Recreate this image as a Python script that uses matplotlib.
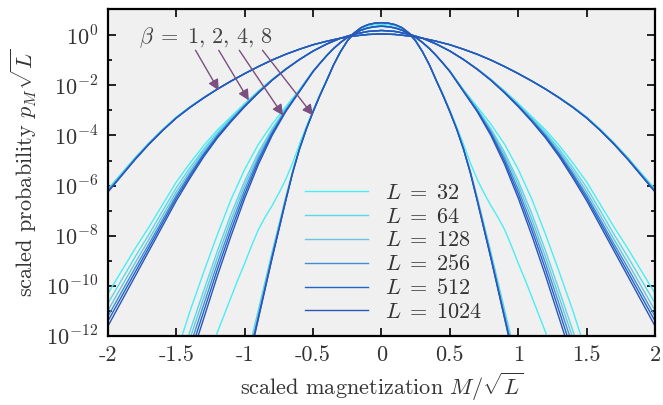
import numpy as np
import matplotlib
matplotlib.use("Agg")
import matplotlib.pyplot as plt
from matplotlib.ticker import FixedLocator, FixedFormatter
from matplotlib.lines import Line2D

plt.rcParams['font.family'] = 'serif'
plt.rcParams['font.serif'] = ['cmr10', 'DejaVu Serif']
plt.rcParams['mathtext.fontset'] = 'cm'
plt.rcParams['axes.unicode_minus'] = False

# ---------------- data (log10 of scaled probability, left half M<=0; distribution is symmetric) -------------
L_values = [32, 64, 128, 256, 512, 1024]
L_colors = ['#48eef5', '#5ad8e6', '#6cc4e0', '#3f8fd6', '#1f64c8', '#2d55b8']
betas = [1, 2, 4, 8]

x_b1 = [-2.0, -1.9, -1.8, -1.7, -1.6, -1.5, -1.4, -1.3, -1.2, -1.1, -1.0,
        -0.9, -0.8, -0.7, -0.6, -0.5, -0.4, -0.3, -0.2, -0.1, 0.0]
logp_b1 = {
    32:   [-6.13, -5.50, -4.87, -4.29, -3.75, -3.26, -2.85, -2.48, -2.14, -1.83, -1.53, -1.25, -0.99, -0.76, -0.56, -0.38, -0.24, -0.12, -0.03, 0.03, 0.05],
    64:   [-6.17, -5.53, -4.89, -4.31, -3.77, -3.28, -2.86, -2.49, -2.15, -1.83, -1.53, -1.25, -0.99, -0.76, -0.56, -0.38, -0.24, -0.12, -0.03, 0.03, 0.05],
    128:  [-6.20, -5.56, -4.91, -4.32, -3.78, -3.29, -2.87, -2.50, -2.15, -1.83, -1.53, -1.25, -0.99, -0.76, -0.56, -0.38, -0.24, -0.12, -0.03, 0.03, 0.05],
    256:  [-6.22, -5.58, -4.93, -4.33, -3.79, -3.30, -2.88, -2.50, -2.15, -1.83, -1.53, -1.25, -0.99, -0.76, -0.56, -0.38, -0.24, -0.12, -0.03, 0.03, 0.05],
    512:  [-6.24, -5.59, -4.94, -4.34, -3.80, -3.30, -2.88, -2.50, -2.15, -1.83, -1.53, -1.25, -0.99, -0.76, -0.56, -0.38, -0.24, -0.12, -0.03, 0.03, 0.05],
    1024: [-6.25, -5.60, -4.95, -4.35, -3.80, -3.30, -2.88, -2.50, -2.15, -1.83, -1.53, -1.25, -0.99, -0.76, -0.56, -0.38, -0.24, -0.12, -0.03, 0.03, 0.05],
}

x_b2 = [-2.0, -1.9, -1.8, -1.7, -1.6, -1.5, -1.4, -1.3, -1.2, -1.1, -1.0,
        -0.9, -0.8, -0.7, -0.6, -0.5, -0.4, -0.3, -0.2, -0.1, 0.0]
logp_b2 = {
    32:   [-10.30, -9.40, -8.50, -7.65, -6.75, -5.85, -5.10, -4.40, -3.78, -3.25, -2.72, -2.22, -1.76, -1.34, -0.97, -0.63, -0.35, -0.12, 0.04, 0.15, 0.19],
    64:   [-10.69, -9.76, -8.83, -7.94, -7.00, -6.08, -5.28, -4.54, -3.88, -3.31, -2.76, -2.24, -1.77, -1.35, -0.97, -0.63, -0.35, -0.12, 0.04, 0.15, 0.19],
    128:  [-10.98, -10.02, -9.07, -8.14, -7.19, -6.24, -5.41, -4.63, -3.95, -3.35, -2.79, -2.26, -1.78, -1.35, -0.97, -0.63, -0.35, -0.12, 0.04, 0.15, 0.19],
    256:  [-11.21, -10.24, -9.27, -8.32, -7.35, -6.38, -5.52, -4.72, -4.00, -3.39, -2.81, -2.28, -1.79, -1.35, -0.97, -0.63, -0.35, -0.12, 0.04, 0.15, 0.19],
    512:  [-11.40, -10.42, -9.44, -8.46, -7.47, -6.49, -5.61, -4.78, -4.05, -3.42, -2.83, -2.29, -1.79, -1.36, -0.97, -0.63, -0.35, -0.12, 0.04, 0.15, 0.19],
    1024: [-11.60, -10.60, -9.60, -8.60, -7.60, -6.60, -5.70, -4.85, -4.10, -3.45, -2.85, -2.30, -1.80, -1.36, -0.97, -0.63, -0.35, -0.12, 0.04, 0.15, 0.19],
}

x_b4 = [-1.5, -1.4, -1.3, -1.2, -1.1, -1.0, -0.9, -0.8, -0.7, -0.6, -0.5,
        -0.45, -0.4, -0.35, -0.3, -0.25, -0.2, -0.15, -0.1, -0.05, 0.0]
logp_b4 = {
    32:   [-12.70, -11.00, -9.45, -7.95, -6.55, -5.35, -4.35, -3.55, -2.85, -2.17, -1.42, -1.12, -0.81, -0.53, -0.29, -0.09, 0.07, 0.20, 0.28, 0.33, 0.35],
    64:   [-13.54, -11.80, -10.19, -8.61, -7.13, -5.81, -4.67, -3.73, -2.93, -2.20, -1.43, -1.12, -0.81, -0.53, -0.29, -0.09, 0.07, 0.20, 0.29, 0.34, 0.36],
    128:  [-13.86, -12.10, -10.47, -8.86, -7.35, -5.98, -4.79, -3.80, -2.96, -2.21, -1.44, -1.12, -0.81, -0.53, -0.29, -0.09, 0.07, 0.20, 0.29, 0.34, 0.36],
    256:  [-14.17, -12.40, -10.75, -9.11, -7.57, -6.16, -4.91, -3.87, -2.99, -2.23, -1.44, -1.12, -0.81, -0.53, -0.29, -0.09, 0.07, 0.20, 0.29, 0.34, 0.36],
    512:  [-14.49, -12.70, -11.02, -9.35, -7.78, -6.33, -5.03, -3.93, -3.02, -2.24, -1.45, -1.12, -0.81, -0.53, -0.29, -0.09, 0.07, 0.20, 0.29, 0.34, 0.36],
    1024: [-14.80, -13.00, -11.30, -9.60, -8.00, -6.50, -5.15, -4.00, -3.05, -2.25, -1.45, -1.12, -0.81, -0.53, -0.29, -0.09, 0.07, 0.20, 0.29, 0.34, 0.36],
}

x_b8 = [-1.25, -1.2, -1.15, -1.1, -1.05, -1.0, -0.95, -0.9, -0.85, -0.8, -0.75, -0.7, -0.65,
        -0.6, -0.55, -0.5, -0.45, -0.4, -0.35, -0.3, -0.25, -0.2, -0.15, -0.1, -0.05, 0.0]
logp_b8 = {
    32:   [-12.60, -11.85, -11.15, -10.45, -9.75, -9.10, -8.40, -7.75, -7.25, -6.80, -6.30, -5.75, -5.10,
           -4.35, -3.65, -2.98, -2.35, -1.77, -1.17, -0.65, -0.22, 0.07, 0.26, 0.37, 0.42, 0.44],
    64:   [-19.55, -18.25, -17.05, -15.76, -14.57, -13.28, -12.10, -10.95, -9.80, -8.65, -7.55, -6.45, -5.42,
           -4.50, -3.72, -3.03, -2.40, -1.80, -1.18, -0.66, -0.23, 0.09, 0.30, 0.42, 0.48, 0.50],
    128:  [-19.78, -18.48, -17.28, -15.98, -14.79, -13.49, -12.30, -11.13, -9.95, -8.78, -7.65, -6.53, -5.46,
           -4.53, -3.74, -3.04, -2.40, -1.80, -1.18, -0.66, -0.23, 0.09, 0.30, 0.42, 0.48, 0.50],
    256:  [-19.89, -18.59, -17.39, -16.09, -14.89, -13.60, -12.40, -11.21, -10.03, -8.84, -7.70, -6.56, -5.48,
           -4.54, -3.74, -3.05, -2.40, -1.80, -1.18, -0.66, -0.23, 0.09, 0.30, 0.42, 0.48, 0.50],
    512:  [-19.95, -18.65, -17.45, -16.16, -14.96, -13.66, -12.46, -11.27, -10.07, -8.88, -7.73, -6.59, -5.49,
           -4.55, -3.75, -3.05, -2.40, -1.80, -1.18, -0.66, -0.23, 0.09, 0.30, 0.42, 0.48, 0.50],
    1024: [-20.00, -18.70, -17.50, -16.20, -15.00, -13.70, -12.50, -11.30, -10.10, -8.90, -7.75, -6.60, -5.50,
           -4.55, -3.75, -3.05, -2.40, -1.80, -1.18, -0.66, -0.23, 0.09, 0.30, 0.42, 0.48, 0.50],
}

x_grids = {1: x_b1, 2: x_b2, 4: x_b4, 8: x_b8}
logp_data = {1: logp_b1, 2: logp_b2, 4: logp_b4, 8: logp_b8}

# arrow annotations: (tail, head) in data coords (x, log10 y)
arrow_tails = [(-1.36, -0.6), (-1.19, -0.6), (-1.04, -0.6), (-0.87, -0.6)]
arrow_heads = [(-1.19, -2.2), (-0.97, -2.6), (-0.72, -3.2), (-0.50, -3.2)]

x_ticks = [-2, -1.5, -1, -0.5, 0, 0.5, 1, 1.5, 2]
x_ticklabels = ['-2', '-1.5', '-1', '-0.5', '0', '0.5', '1', '1.5', '2']
y_major_exp = [-12, -10, -8, -6, -4, -2, 0]
y_minor_exp = [-11, -9, -7, -5, -3, -1]

FS = 16

# ---------------- plotting ----------------
fig = plt.figure(figsize=(6.63, 4.05), dpi=100)
ax = fig.add_axes([0.1629, 0.1704, 0.825, 0.807])
ax.set_facecolor('#f0f0f0')

def full_curve(xh, yh):
    xh = np.asarray(xh, float)
    yh = np.asarray(yh, float)
    x = np.concatenate([xh, -xh[::-1][1:]])
    y = np.concatenate([yh, yh[::-1][1:]])
    return x, 10.0 ** y

for L, col in zip(L_values, L_colors):
    for b in betas:
        x, p = full_curve(x_grids[b], logp_data[b][L])
        ax.plot(x, p, color=col, lw=1.0, solid_capstyle='round')

ax.set_yscale('log')
ax.set_xlim(-2, 2)
ax.set_ylim(1e-12, 10 ** 1.04)

ax.xaxis.set_major_locator(FixedLocator(x_ticks))
ax.xaxis.set_major_formatter(FixedFormatter(x_ticklabels))
ax.yaxis.set_major_locator(FixedLocator([10.0 ** e for e in y_major_exp]))
ax.yaxis.set_major_formatter(FixedFormatter([r'$10^{%d}$' % e for e in y_major_exp]))
ax.yaxis.set_minor_locator(FixedLocator([10.0 ** e for e in y_minor_exp]))
ax.yaxis.set_minor_formatter(FixedFormatter([''] * len(y_minor_exp)))
ax.xaxis.set_minor_locator(FixedLocator([]))

ax.tick_params(which='both', direction='in', top=True, right=True, colors='black',
               labelcolor='#333333', labelsize=FS, width=1.2)
ax.tick_params(which='major', length=5.5, pad=7)
ax.tick_params(which='minor', length=3)
for s in ax.spines.values():
    s.set_linewidth(1.6)

ax.set_xlabel(r'scaled magnetization $M/\sqrt{L}$', fontsize=FS, color='#333333', labelpad=4)
ax.set_ylabel(r'scaled probability $p_M\sqrt{L}$', fontsize=FS, color='#333333', labelpad=5)

for (xt, yt), (xh, yh) in zip(arrow_tails, arrow_heads):
    ax.annotate('', xy=(xh, 10 ** yh), xytext=(xt, 10 ** yt),
                arrowprops=dict(arrowstyle='-|>', color='#7b4f80', lw=1.0,
                                mutation_scale=16, shrinkA=0, shrinkB=0))

ax.text(-1.77, 10 ** -0.08, r'$\beta\;=\;1,\,2,\,4,\,8$', fontsize=FS, color='#444444',
        ha='left', va='center')

handles = [Line2D([], [], color=c, lw=1.0) for c in L_colors]
labels = [r'$L\;=\;%d$' % L for L in L_values]
ax.legend(handles, labels, loc='upper left', bbox_to_anchor=(0.36, 0.466),
          frameon=False, borderpad=0, borderaxespad=0, handlelength=2.85,
          handletextpad=0.75, labelspacing=0.18, fontsize=FS, labelcolor='#333333')

fig.savefig('out.png', dpi=100)
